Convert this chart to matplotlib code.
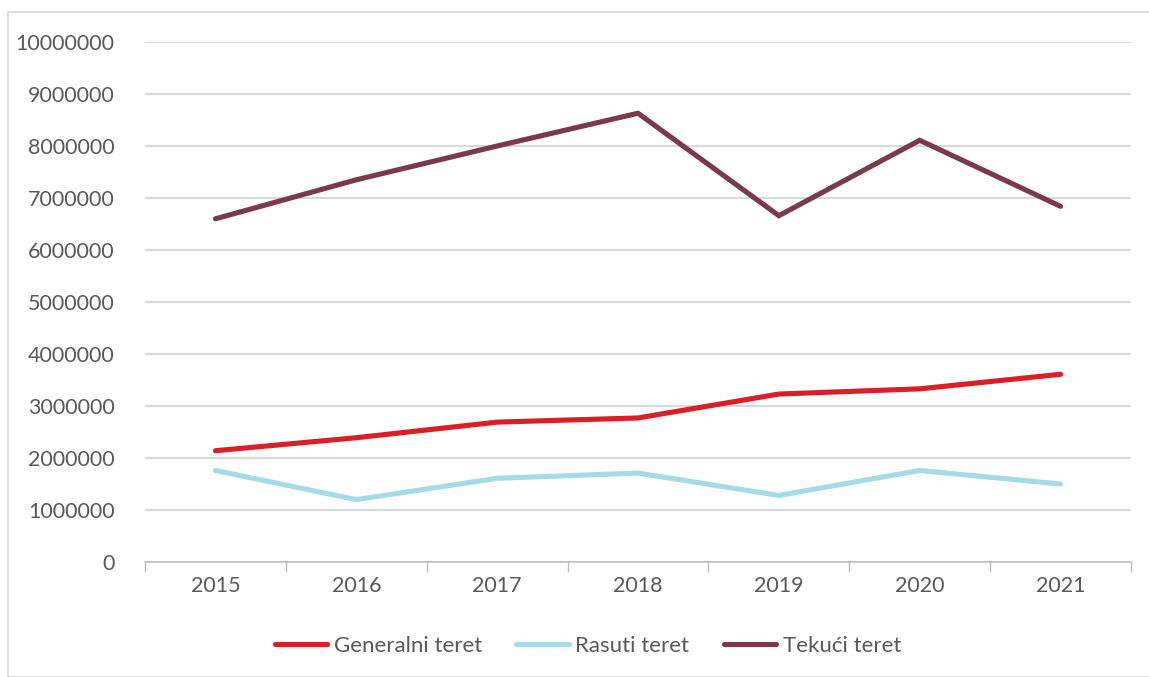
import matplotlib
matplotlib.use("Agg")
import matplotlib.pyplot as plt
from matplotlib.patches import Rectangle

years = ["2015", "2016", "2017", "2018", "2019", "2020", "2021"]
generalni = [2140000, 2390000, 2690000, 2770000, 3230000, 3330000, 3610000]
rasuti = [1760000, 1200000, 1610000, 1710000, 1280000, 1760000, 1500000]
tekuci = [6600000, 7350000, 8000000, 8630000, 6660000, 8110000, 6840000]
series_names = ["Generalni teret", "Rasuti teret", "Tekući teret"]
colors = ["#DA1F29", "#A5DBE8", "#7B3A4A"]
yticks = list(range(0, 10000001, 1000000))

plt.rcParams['font.family'] = ['Lato', 'DejaVu Sans']
txt = "#595959"

fig = plt.figure(figsize=(11.49, 6.77), dpi=100)
fig.patches.append(Rectangle((8/1149, 0.0), 1.2, 1 - 12/677, transform=fig.transFigure,
                             fill=False, edgecolor="#d9d9d9", linewidth=1.2))
ax = fig.add_axes([145/1149, 1 - 562/677, (1131 - 145)/1149, (562 - 42)/677])

x = list(range(len(years)))
for vals, name, c in zip([generalni, rasuti, tekuci], series_names, colors):
    ax.plot(x, vals, color=c, linewidth=3.7, label=name, solid_capstyle="round",
            solid_joinstyle="miter")

ax.set_xlim(-0.5, len(years) - 0.5)
ax.set_ylim(0, 10000000)
ax.set_yticks(yticks)
ax.set_yticklabels([str(v) for v in yticks])
ax.set_xticks(x)
ax.set_xticklabels(years)
ax.set_xticks([i - 0.5 for i in range(len(years) + 1)], minor=True)
ax.tick_params(axis="x", which="major", length=0, pad=10, labelsize=15.5, labelcolor=txt)
ax.tick_params(axis="x", which="minor", length=7, color="#bfbfbf", width=1)
ax.tick_params(axis="y", length=0, pad=22, labelsize=15.5, labelcolor=txt)
ax.grid(axis="y", color="#d9d9d9", linewidth=1.5)
ax.set_axisbelow(True)
for s in ["top", "right", "left"]:
    ax.spines[s].set_visible(False)
ax.spines["bottom"].set_color("#bfbfbf")
ax.spines["bottom"].set_linewidth(1.2)

leg = fig.legend(loc="center", bbox_to_anchor=(588/1149, 1 - 646/677), ncol=3, frameon=False,
                 fontsize=16, handlelength=2.35, handletextpad=0.3, columnspacing=1.55)
for t in leg.get_texts():
    t.set_color(txt)

fig.savefig("out.png", dpi=100)
